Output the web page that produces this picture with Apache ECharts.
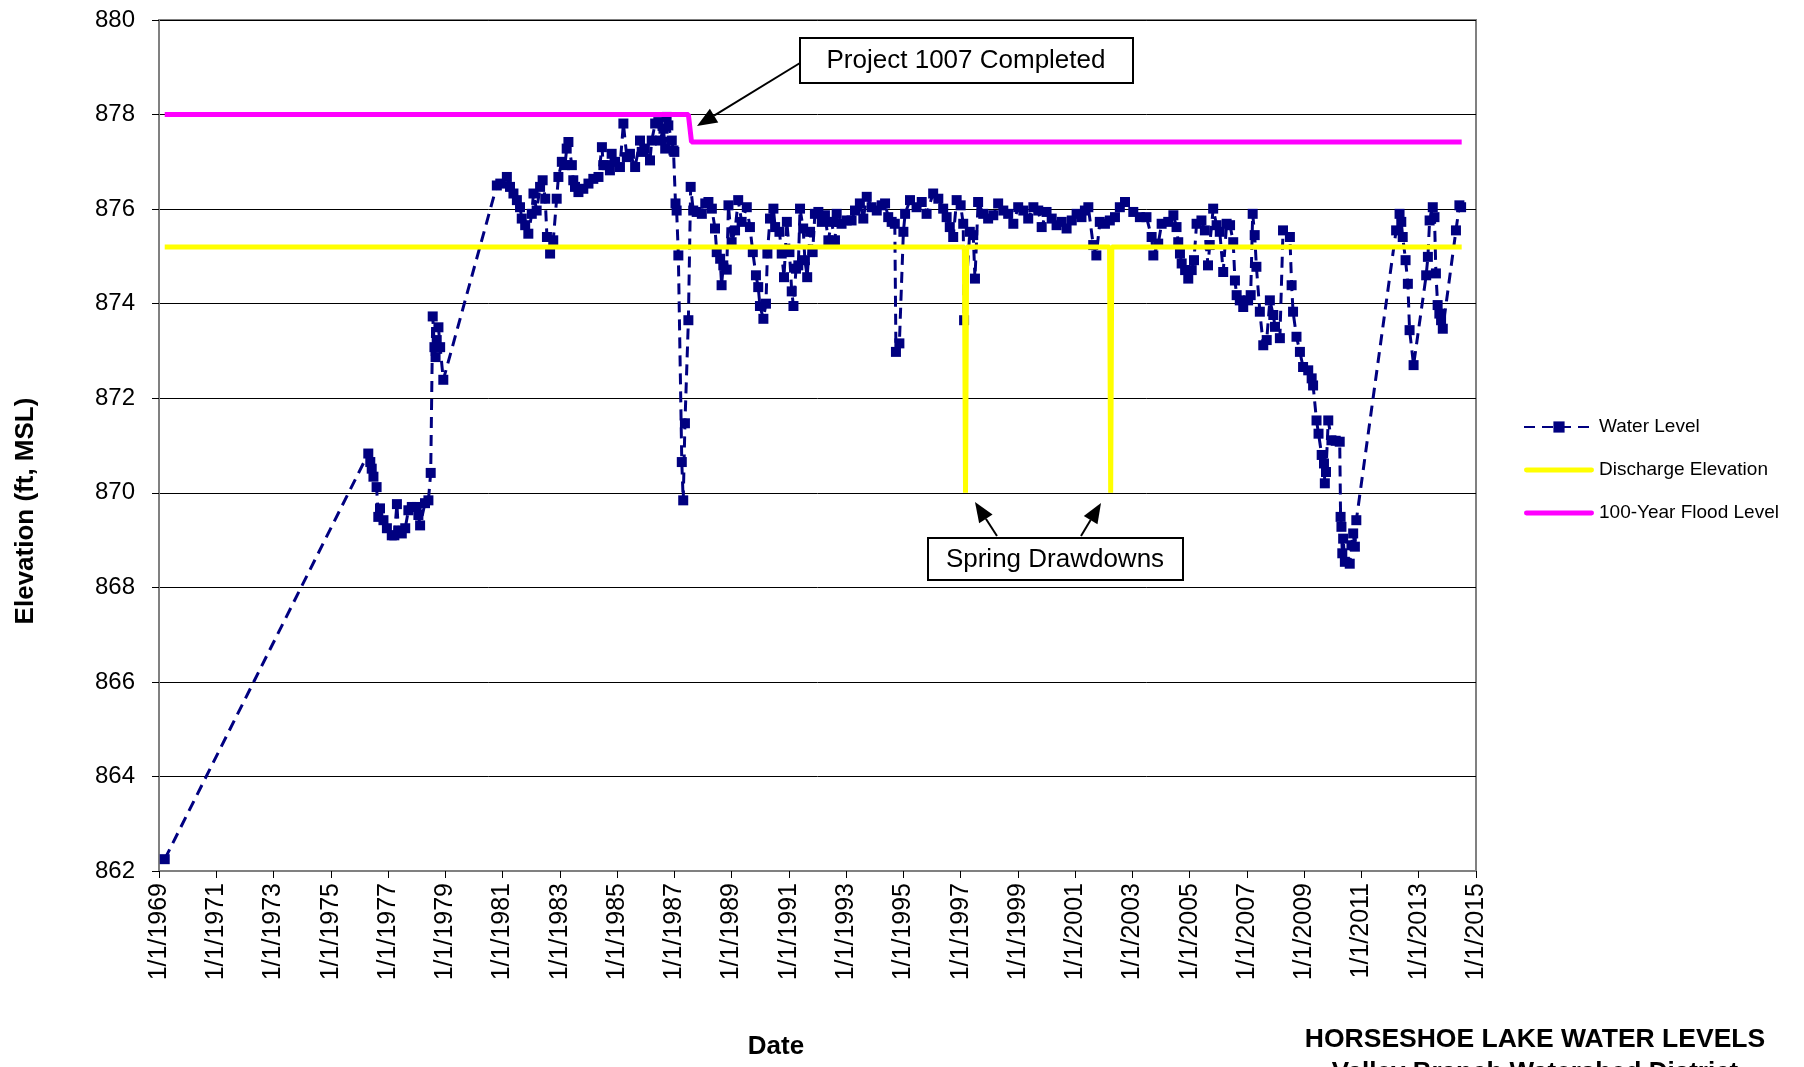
<!DOCTYPE html>
<html>
<head>
<meta charset="utf-8">
<script src="https://cdn.jsdelivr.net/npm/echarts@6/dist/echarts.min.js"></script>
<style>
  html, body { margin: 0; padding: 0; background: #fff; }
  #chart { width: 1804px; height: 1067px; }
</style>
</head>
<body>
<div id="chart"></div>
<script>
// x values are decimal years; axis runs in years since baseYear
const baseYear = 1969;

const waterDates = [
  1969.2, 1976.31, 1976.38, 1976.43, 1976.49, 1976.6, 1976.66, 1976.72, 1976.84, 1976.96,
  1977.13, 1977.22, 1977.31, 1977.36, 1977.48, 1977.6, 1977.71, 1977.83, 1978.0, 1978.06,
  1978.12, 1978.29, 1978.41, 1978.49, 1978.56, 1978.62, 1978.66, 1978.7, 1978.76, 1978.82,
  1978.93, 1980.8, 1980.92, 1981.15, 1981.26, 1981.38, 1981.5, 1981.61, 1981.67, 1981.79,
  1981.9, 1982.02, 1982.08, 1982.19, 1982.31, 1982.4, 1982.49, 1982.55, 1982.66, 1982.77,
  1982.89, 1982.95, 1983.07, 1983.18, 1983.24, 1983.3, 1983.42, 1983.47, 1983.53, 1983.65,
  1983.82, 1984.0, 1984.17, 1984.35, 1984.47, 1984.52, 1984.64, 1984.75, 1984.81, 1984.93,
  1985.1, 1985.22, 1985.34, 1985.45, 1985.63, 1985.8, 1985.86, 1985.97, 1986.15, 1986.21,
  1986.33, 1986.44, 1986.5, 1986.62, 1986.68, 1986.73, 1986.79, 1986.91, 1986.97, 1987.0,
  1987.04, 1987.08, 1987.14, 1987.26, 1987.31, 1987.37, 1987.49, 1987.57, 1987.66, 1987.78,
  1987.96, 1988.08, 1988.19, 1988.31, 1988.42, 1988.48, 1988.6, 1988.65, 1988.71, 1988.83,
  1988.89, 1989.0, 1989.12, 1989.23, 1989.35, 1989.53, 1989.64, 1989.74, 1989.85, 1989.93,
  1989.99, 1990.11, 1990.2, 1990.25, 1990.34, 1990.46, 1990.52, 1990.67, 1990.75, 1990.83,
  1990.93, 1991.02, 1991.1, 1991.16, 1991.25, 1991.33, 1991.39, 1991.5, 1991.56, 1991.64,
  1991.74, 1991.83, 1991.91, 1992.03, 1992.15, 1992.26, 1992.38, 1992.49, 1992.61, 1992.67,
  1992.84, 1993.02, 1993.19, 1993.31, 1993.48, 1993.6, 1993.72, 1993.89, 1994.07, 1994.24,
  1994.36, 1994.47, 1994.59, 1994.7, 1994.74, 1994.86, 1995.0, 1995.06, 1995.23, 1995.46,
  1995.64, 1995.81, 1996.04, 1996.22, 1996.39, 1996.51, 1996.62, 1996.74, 1996.86, 1997.0,
  1997.09, 1997.12, 1997.32, 1997.44, 1997.5, 1997.61, 1997.79, 1997.96, 1998.14, 1998.31,
  1998.49, 1998.66, 1998.84, 1999.01, 1999.19, 1999.36, 1999.54, 1999.71, 1999.83, 2000.0,
  2000.18, 2000.35, 2000.53, 2000.7, 2000.88, 2001.05, 2001.22, 2001.34, 2001.46, 2001.63,
  2001.74, 2001.86, 2002.04, 2002.21, 2002.39, 2002.56, 2002.74, 2003.03, 2003.26, 2003.49,
  2003.67, 2003.73, 2003.9, 2004.02, 2004.25, 2004.43, 2004.54, 2004.6, 2004.66, 2004.72,
  2004.84, 2004.95, 2005.07, 2005.15, 2005.24, 2005.41, 2005.53, 2005.64, 2005.7, 2005.82,
  2005.94, 2006.05, 2006.17, 2006.29, 2006.41, 2006.52, 2006.58, 2006.64, 2006.75, 2006.87,
  2007.04, 2007.13, 2007.2, 2007.27, 2007.33, 2007.45, 2007.57, 2007.69, 2007.8, 2007.92,
  2007.98, 2008.15, 2008.26, 2008.5, 2008.56, 2008.61, 2008.73, 2008.85, 2008.96, 2009.14,
  2009.26, 2009.31, 2009.43, 2009.5, 2009.61, 2009.69, 2009.72, 2009.76, 2009.84, 2009.95,
  2010.1, 2010.24, 2010.27, 2010.3, 2010.33, 2010.36, 2010.42, 2010.59, 2010.65, 2010.71,
  2010.77, 2010.82, 2012.21, 2012.33, 2012.39, 2012.44, 2012.54, 2012.62, 2012.68, 2012.82,
  2013.26, 2013.32, 2013.38, 2013.49, 2013.55, 2013.6, 2013.66, 2013.72, 2013.78, 2013.84,
  2014.3, 2014.42, 2014.48
];

const waterLevels = [
  862.25, 870.83, 870.65, 870.51, 870.34, 870.12, 869.49, 869.67, 869.42, 869.25,
  869.1, 869.1, 869.76, 869.2, 869.14, 869.25, 869.63, 869.7, 869.7, 869.53,
  869.31, 869.78, 869.84, 870.42, 873.73, 873.08, 872.87, 873.23, 873.5, 873.08,
  872.39, 876.5, 876.54, 876.68, 876.47, 876.33, 876.19, 876.04, 875.8, 875.66,
  875.48, 875.9, 876.33, 875.97, 876.47, 876.61, 876.22, 875.41, 875.06, 875.34,
  876.22, 876.68, 877.0, 876.93, 877.28, 877.42, 876.93, 876.61, 876.47, 876.36,
  876.43, 876.54, 876.64, 876.68, 877.31, 876.93, 876.93, 876.82, 877.17, 877.0,
  876.89, 877.81, 877.1, 877.17, 876.89, 877.45, 877.21, 877.28, 877.03, 877.45,
  877.81, 877.84, 877.45, 877.7, 877.28, 877.95, 877.77, 877.45, 877.24, 877.21,
  876.12, 875.97, 875.02, 870.65, 869.84, 871.47, 873.65, 876.47, 875.97, 875.94,
  875.9, 876.12, 876.15, 876.01, 875.59, 875.09, 874.95, 874.39, 874.81, 874.72,
  876.08, 875.3, 875.55, 876.19, 875.73, 876.04, 875.62, 875.09, 874.6, 874.35,
  873.95, 873.68, 874.0, 875.06, 875.8, 876.01, 875.62, 875.52, 875.06, 874.56,
  875.73, 875.09, 874.26, 873.95, 874.74, 874.81, 876.01, 875.59, 874.92, 874.56,
  875.52, 875.09, 875.9, 875.94, 875.73, 875.87, 875.34, 875.73, 875.34, 875.9,
  875.69, 875.76, 875.76, 875.97, 876.12, 875.8, 876.26, 876.04, 875.97, 876.08,
  876.12, 875.83, 875.73, 875.69, 872.98, 873.16, 875.52, 875.9, 876.19, 876.04,
  876.15, 875.9, 876.33, 876.22, 876.01, 875.83, 875.62, 875.41, 876.19, 876.08,
  875.69, 873.65, 875.52, 875.45, 874.53, 876.15, 875.9, 875.8, 875.87, 876.12,
  875.97, 875.9, 875.69, 876.04, 875.97, 875.8, 876.04, 875.97, 875.62, 875.94,
  875.8, 875.66, 875.73, 875.59, 875.76, 875.9, 875.83, 875.97, 876.04, 875.24,
  875.02, 875.73, 875.69, 875.76, 875.83, 876.04, 876.15, 875.94, 875.83, 875.83,
  875.41, 875.02, 875.27, 875.69, 875.73, 875.87, 875.62, 875.3, 875.06, 874.85,
  874.71, 874.53, 874.71, 874.92, 875.69, 875.76, 875.55, 874.81, 875.24, 876.01,
  875.66, 875.52, 874.67, 875.69, 875.66, 875.3, 874.49, 874.18, 874.07, 873.93,
  874.07, 874.18, 875.9, 875.45, 874.78, 873.83, 873.12, 873.23, 874.07, 873.76,
  873.51, 873.27, 875.55, 875.41, 874.39, 873.83, 873.3, 872.98, 872.66, 872.59,
  872.42, 872.27, 871.53, 871.25, 870.8, 870.62, 870.2, 870.44, 871.53, 871.11,
  871.1, 871.08, 869.49, 869.28, 868.72, 869.03, 868.54, 868.5, 868.89, 869.14,
  868.86, 869.42, 875.55, 875.9, 875.73, 875.41, 874.92, 874.42, 873.44, 872.7,
  874.6, 874.99, 875.76, 876.04, 875.83, 874.64, 873.97, 873.79, 873.65, 873.47,
  875.55, 876.08, 876.04
];

const dischargeDates = [1969.2, 1997.13, 1997.17, 1997.21, 2002.2, 2002.24, 2002.28, 2014.5];
const dischargeLevels = [875.2, 875.2, 870.0, 875.2, 875.2, 870.0, 875.2, 875.2];

const floodDates = [1969.2, 1987.49, 1987.6, 2014.5];
const floodLevels = [878.0, 878.0, 877.42, 877.42];

const toPairs = (dates, levels) => dates.map((d, i) => [d - baseYear, levels[i]]);

const FONT = "'Liberation Sans', Arial, sans-serif";
// flat bar used as legend icon for the two solid reference lines
const BAR_ICON = "path://M2,0 L68,0 A2.5,2.5 0 0 1 68,5 L2,5 A2.5,2.5 0 0 1 2,0 Z";

const myChart = echarts.init(document.getElementById("chart"));

// simple arrow: shaft + filled head
const arrow = (x1, y1, x2, y2) => {
  const ang = Math.atan2(y2 - y1, x2 - x1);
  const L = 20, W = 8;
  const bx = x2 - L * Math.cos(ang), by = y2 - L * Math.sin(ang);
  const px = -Math.sin(ang) * W, py = Math.cos(ang) * W;
  return [
    { type: "line", z: 10, shape: { x1: x1, y1: y1, x2: bx, y2: by }, style: { stroke: "#000", lineWidth: 2 } },
    { type: "polygon", z: 10, shape: { points: [[x2, y2], [bx + px, by + py], [bx - px, by - py]] }, style: { fill: "#000" } },
  ];
};

const options = {
  animation: false,
  backgroundColor: "#fff",
  grid: {
    left: 159,
    right: 328,
    top: 20,
    bottom: 196,
    show: true,
    borderColor: "#808080",
    borderWidth: 2,
  },
  legend: {
    orient: "vertical",
    left: 1518,
    top: 412,
    itemWidth: 70,
    itemHeight: 14,
    itemGap: 23,
    textStyle: { fontFamily: FONT, fontSize: 19, color: "#000", lineHeight: 20 },
    data: [
      { name: "Water Level" },
      { name: "Discharge Elevation", icon: BAR_ICON },
      { name: "100-Year Flood Level", icon: BAR_ICON },
    ],
  },
  xAxis: {
    type: "value",
    min: 0,
    max: 46,
    interval: 2,
    axisLine: { show: true, lineStyle: { color: "#808080", width: 2 } },
    axisTick: { show: true, inside: false, length: 7, lineStyle: { color: "#000" } },
    splitLine: { show: false },
    axisLabel: {
      rotate: 90,
      margin: 12,
      fontFamily: FONT,
      fontSize: 25,
      color: "#000",
      formatter: (v) => "1/1/" + (baseYear + v),
    },
  },
  yAxis: {
    type: "value",
    min: 862,
    max: 880,
    interval: 2,
    axisLine: { show: true, lineStyle: { color: "#808080", width: 2 } },
    axisTick: { show: true, inside: false, length: 7, lineStyle: { color: "#000" } },
    splitLine: { show: true, lineStyle: { color: "#000", width: 1 } },
    axisLabel: { margin: 24, fontFamily: FONT, fontSize: 24, color: "#000" },
  },
  series: [
    {
      name: "Water Level",
      type: "line",
      data: toPairs(waterDates, waterLevels),
      symbol: "rect",
      symbolSize: 10,
      showSymbol: true,
      itemStyle: { color: "#000080" },
      lineStyle: { color: "#000080", width: 3, type: [11, 7] },
      z: 2,
    },
    {
      name: "Discharge Elevation",
      type: "line",
      data: toPairs(dischargeDates, dischargeLevels),
      symbol: "none",
      itemStyle: { color: "#ffff00" },
      lineStyle: { color: "#ffff00", width: 5 },
      z: 3,
    },
    {
      name: "100-Year Flood Level",
      type: "line",
      data: toPairs(floodDates, floodLevels),
      symbol: "none",
      itemStyle: { color: "#ff00ff" },
      lineStyle: { color: "#ff00ff", width: 5 },
      z: 4,
    },
  ],
  graphic: [
    // annotation boxes
    { type: "rect", z: 10, shape: { x: 800, y: 38, width: 333, height: 45 }, style: { fill: "#fff", stroke: "#000", lineWidth: 2 } },
    { type: "text", z: 11, x: 966, y: 61, style: { text: "Project 1007 Completed", font: "26px " + FONT, fill: "#000", align: "center", verticalAlign: "middle" } },
    ...arrow(800, 63, 697, 126),
    { type: "rect", z: 10, shape: { x: 928, y: 538, width: 255, height: 42 }, style: { fill: "#fff", stroke: "#000", lineWidth: 2 } },
    { type: "text", z: 11, x: 1055, y: 560, style: { text: "Spring Drawdowns", font: "26px " + FONT, fill: "#000", align: "center", verticalAlign: "middle" } },
    ...arrow(997, 536, 975, 502),
    ...arrow(1081, 536, 1101, 503),
    // axis titles
    { type: "text", x: 26, y: 511, rotation: Math.PI / 2, style: { text: "Elevation (ft, MSL)", font: "bold 26px " + FONT, fill: "#000", align: "center", verticalAlign: "middle" } },
    { type: "text", x: 776, y: 1047, style: { text: "Date", font: "bold 26px " + FONT, fill: "#000", align: "center", verticalAlign: "middle" } },
    // chart title at lower right
    { type: "text", x: 1535, y: 1040, style: { text: "HORSESHOE LAKE WATER LEVELS", font: "bold 26.5px " + FONT, fill: "#000", align: "center", verticalAlign: "middle" } },
    { type: "text", x: 1535, y: 1073, style: { text: "Valley Branch Watershed District", font: "bold 26px " + FONT, fill: "#000", align: "center", verticalAlign: "middle" } },
  ],
};

myChart.setOption(options);
</script>
</body>
</html>
